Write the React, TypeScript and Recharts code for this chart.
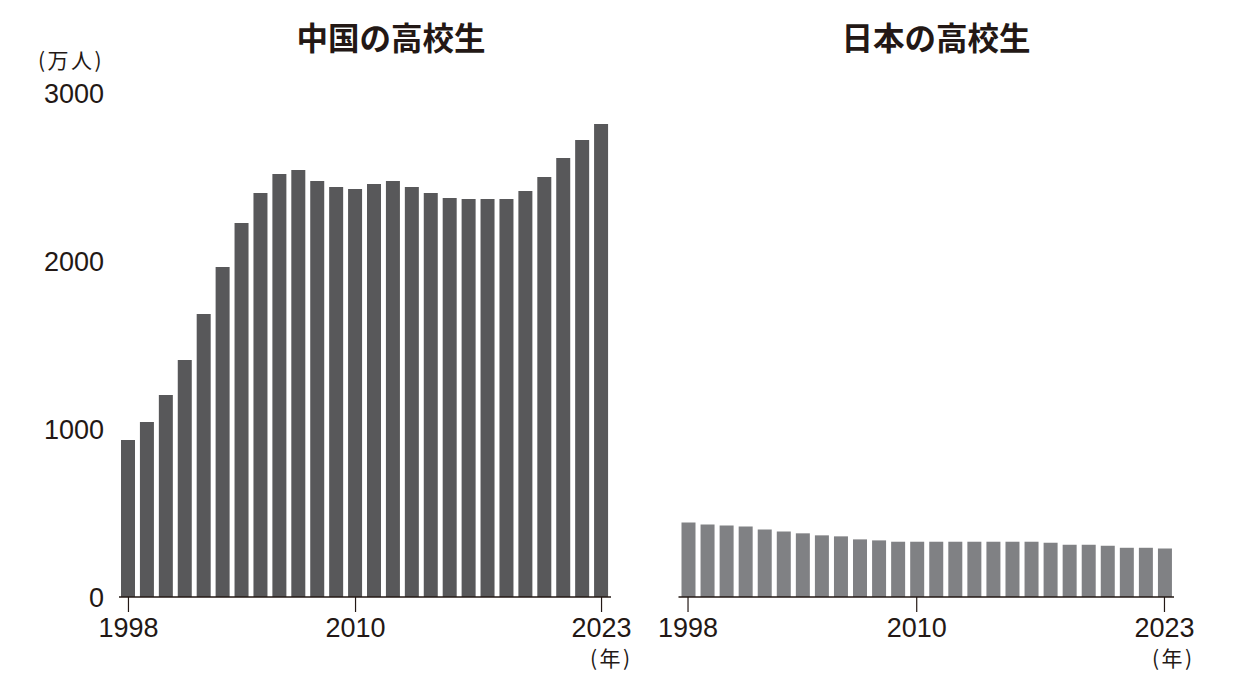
import React from 'react';
import { BarChart, Bar, XAxis, YAxis } from 'recharts';

const years = [
  '1998', '1999', '2000', '2001', '2002', '2003', '2004', '2005', '2006',
  '2007', '2008', '2009', '2010', '2011', '2012', '2013', '2014', '2015',
  '2016', '2017', '2018', '2019', '2020', '2021', '2022', '2023',
];
// 万人
const chinaStudents = [
  935, 1042, 1202, 1411, 1685, 1964, 2226, 2405, 2518, 2542, 2476, 2440, 2429,
  2458, 2476, 2440, 2405, 2375, 2369, 2369, 2369, 2417, 2500, 2613, 2720, 2815,
];
const japanStudents = [
  444, 432, 426, 420, 402, 390, 379, 367, 361, 343, 337, 329, 329,
  329, 329, 329, 329, 329, 329, 323, 311, 311, 305, 293, 293, 288,
];
const yTicks = [0, 1000, 2000, 3000];
const xTicks = ['1998', '2010', '2023'];

const chinaData = years.map((year, i) => ({ year, value: chinaStudents[i] }));
const japanData = years.map((year, i) => ({ year, value: japanStudents[i] }));

const ink = '#231815';
const numFont = '"Liberation Sans", Arial, sans-serif';
const jpFont = '"Noto Sans CJK JP", "Noto Sans", sans-serif';
const tickStyle = { fontSize: 27, fill: ink, fontFamily: numFont };

const App = () => (
  <div style={{ position: 'absolute', left: 0, top: 0, width: 1248, height: 684, background: '#fff' }}>
    <div style={{ position: 'absolute', left: 0, top: 0 }}>
      <BarChart width={640} height={684} data={chinaData} margin={{ top: 93, right: 29, bottom: 0, left: 0 }}>
        <XAxis
          dataKey="year"
          ticks={xTicks}
          interval={0}
          height={87}
          tickSize={15}
          tickMargin={6}
          axisLine={{ stroke: ink, strokeWidth: 1.5 }}
          tickLine={{ stroke: ink, strokeWidth: 1.2 }}
          tick={tickStyle}
        />
        <YAxis
          domain={[0, 3000]}
          ticks={yTicks}
          width={119}
          axisLine={false}
          tickLine={false}
          tickSize={0}
          tickMargin={15}
          tick={tickStyle}
        />
        <Bar dataKey="value" fill="#58585a" barSize={14} isAnimationActive={false} />
      </BarChart>
    </div>
    <div style={{ position: 'absolute', left: 650, top: 0 }}>
      <BarChart width={598} height={684} data={japanData} margin={{ top: 93, right: 74, bottom: 0, left: 28.5 }}>
        <XAxis
          dataKey="year"
          ticks={xTicks}
          interval={0}
          height={87}
          tickSize={15}
          tickMargin={6}
          axisLine={{ stroke: ink, strokeWidth: 1.5 }}
          tickLine={{ stroke: ink, strokeWidth: 1.2 }}
          tick={tickStyle}
        />
        <YAxis domain={[0, 3000]} ticks={yTicks} hide />
        <Bar dataKey="value" fill="#808184" barSize={14} isAnimationActive={false} />
      </BarChart>
    </div>
    <svg
      width={1248}
      height={684}
      style={{ position: 'absolute', left: 0, top: 0, pointerEvents: 'none' }}
    >
      <text x={391} y={50} textAnchor="middle" fontSize={31.5} fontWeight={700} fill={ink} fontFamily={jpFont}>
        中国の高校生
      </text>
      <text x={936} y={50} textAnchor="middle" fontSize={31.5} fontWeight={700} fill={ink} fontFamily={jpFont}>
        日本の高校生
      </text>
      <text x={38} y={68} fontSize={21} letterSpacing={2.5} fill={ink} fontFamily={jpFont}>
        (万人)
      </text>
      <text x={590} y={666} fontSize={21} letterSpacing={2.5} fill={ink} fontFamily={jpFont}>
        (年)
      </text>
      <text x={1152} y={666} fontSize={21} letterSpacing={2.5} fill={ink} fontFamily={jpFont}>
        (年)
      </text>
    </svg>
  </div>
);

export default App;
